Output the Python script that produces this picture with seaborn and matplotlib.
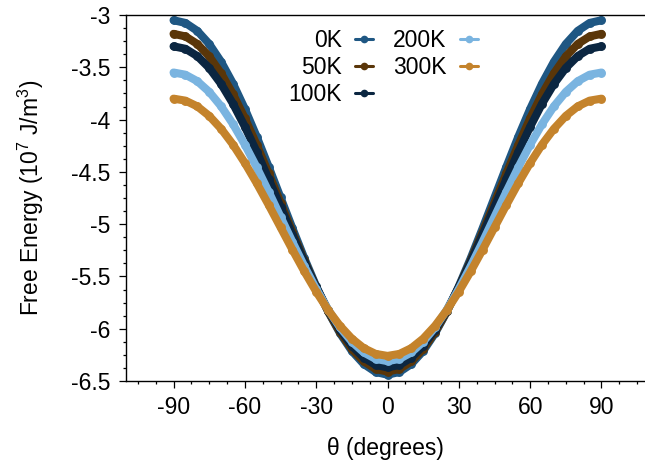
import matplotlib
matplotlib.use("Agg")
import matplotlib.pyplot as plt
from matplotlib.lines import Line2D
from matplotlib.ticker import MultipleLocator
import seaborn as sns
import pandas as pd

theta = [-90, -85, -80, -75, -70, -65, -60, -55, -50, -45, -40, -35, -30, -25, -20, -15, -10, -5,
         0, 5, 10, 15, 20, 25, 30, 35, 40, 45, 50, 55, 60, 65, 70, 75, 80, 85, 90]

e_0K = [-3.050, -3.076, -3.152, -3.277, -3.447, -3.656, -3.898, -4.165, -4.451, -4.745,
        -5.039, -5.325, -5.593, -5.835, -6.043, -6.213, -6.338, -6.414,
        -6.440,
        -6.414, -6.338, -6.213, -6.043, -5.835, -5.593, -5.325, -5.039,
        -4.745, -4.451, -4.165, -3.898, -3.656, -3.447, -3.277, -3.152, -3.076, -3.050]
e_50K = [-3.180, -3.205, -3.277, -3.396, -3.558, -3.757, -3.988, -4.243, -4.515, -4.795,
         -5.075, -5.347, -5.603, -5.833, -6.032, -6.194, -6.313, -6.385,
         -6.410,
         -6.385, -6.313, -6.194, -6.032, -5.833, -5.603, -5.347, -5.075,
         -4.795, -4.515, -4.243, -3.988, -3.757, -3.558, -3.396, -3.277, -3.205, -3.180]
e_100K = [-3.300, -3.323, -3.393, -3.506, -3.659, -3.848, -4.068, -4.310, -4.569, -4.835,
          -5.102, -5.360, -5.603, -5.822, -6.011, -6.164, -6.277, -6.347,
          -6.370,
          -6.347, -6.277, -6.164, -6.011, -5.822, -5.603, -5.360, -5.102,
          -4.835, -4.569, -4.310, -4.068, -3.848, -3.659, -3.506, -3.393, -3.323, -3.300]
e_200K = [-3.550, -3.571, -3.633, -3.735, -3.873, -4.043, -4.240, -4.458, -4.690, -4.930,
          -5.170, -5.402, -5.620, -5.817, -5.987, -6.125, -6.227, -6.289,
          -6.310,
          -6.289, -6.227, -6.125, -5.987, -5.817, -5.620, -5.402, -5.170,
          -4.930, -4.690, -4.458, -4.240, -4.043, -3.873, -3.735, -3.633, -3.571, -3.550]
e_300K = [-3.800, -3.819, -3.874, -3.965, -4.088, -4.239, -4.415, -4.609, -4.816, -5.030,
          -5.244, -5.451, -5.645, -5.821, -5.972, -6.095, -6.186, -6.241,
          -6.260,
          -6.241, -6.186, -6.095, -5.972, -5.821, -5.645, -5.451, -5.244,
          -5.030, -4.816, -4.609, -4.415, -4.239, -4.088, -3.965, -3.874, -3.819, -3.800]

labels = ["0K", "50K", "100K", "200K", "300K"]
colors = ["#1f5783", "#5a3609", "#0b2641", "#7ab4e0", "#c4832c"]
series = [e_0K, e_50K, e_100K, e_200K, e_300K]

x_ticks = [-90, -60, -30, 0, 30, 60, 90]
y_ticks = [-6.5, -6, -5.5, -5, -4.5, -4, -3.5, -3]

rows = []
for lab, vals in zip(labels, series):
    for t, v in zip(theta, vals):
        rows.append({"theta": t, "energy": v, "T": lab})
df = pd.DataFrame(rows)

sns.set_theme(style="ticks")
plt.rcParams["font.family"] = ["Liberation Sans", "DejaVu Sans"]
plt.rcParams["mathtext.fontset"] = "custom"
plt.rcParams["mathtext.rm"] = "Liberation Sans"
plt.rcParams["mathtext.it"] = "Liberation Sans"
plt.rcParams["text.color"] = "black"
plt.rcParams["axes.labelcolor"] = "black"

FS = 16.5

fig = plt.figure(figsize=(6.45, 4.65), dpi=100)
ax = fig.add_axes([126 / 645, 1 - 381 / 465, 1 - 126 / 645, (381 - 15) / 465])

sns.lineplot(data=df, x="theta", y="energy", hue="T", hue_order=labels,
             palette=colors, marker="o", markersize=6.4, markeredgewidth=0,
             linewidth=5.8, legend=False, ax=ax, sort=True)
for ln in ax.lines:
    ln.set_solid_capstyle("round")
    ln.set_solid_joinstyle("round")

ax.set_xlim(-110, 108.3)
ax.set_ylim(-6.5, -3)
ax.set_xticks(x_ticks)
ax.set_xticklabels([str(v) for v in x_ticks])
ax.set_yticks(y_ticks)
ax.set_yticklabels(["%g" % v for v in y_ticks])
ax.xaxis.set_minor_locator(MultipleLocator(7.5))
ax.yaxis.set_minor_locator(MultipleLocator(0.125))
ax.tick_params(axis="both", which="major", direction="out", length=5, width=0.9,
               labelsize=FS, color="black", labelcolor="black", pad=6)
ax.tick_params(axis="both", which="minor", direction="out", length=2.5, width=0.9,
               color="black")
ax.tick_params(axis="x", which="both", top=False)
ax.tick_params(axis="y", which="both", right=False)

ax.spines["right"].set_visible(False)
for s in ["left", "bottom", "top"]:
    ax.spines[s].set_linewidth(1.0)
    ax.spines[s].set_color("black")

ax.set_xlabel("θ (degrees)", fontsize=FS, labelpad=13)
ax.set_ylabel("Free Energy (10$^7$ J/m$^3$)", fontsize=FS, labelpad=18)

handles = [Line2D([0], [0], color=c, lw=2.2, marker="o", markersize=5.5,
                  markeredgewidth=0) for c in colors]
ax.legend(handles, labels, ncol=2, loc="upper center", bbox_to_anchor=(0.495, 1.005),
          frameon=False, markerfirst=False, fontsize=FS, handlelength=0.75,
          handletextpad=0.6, columnspacing=0.9, labelspacing=0.18, borderpad=0.2)

fig.savefig("out.png", dpi=100)
